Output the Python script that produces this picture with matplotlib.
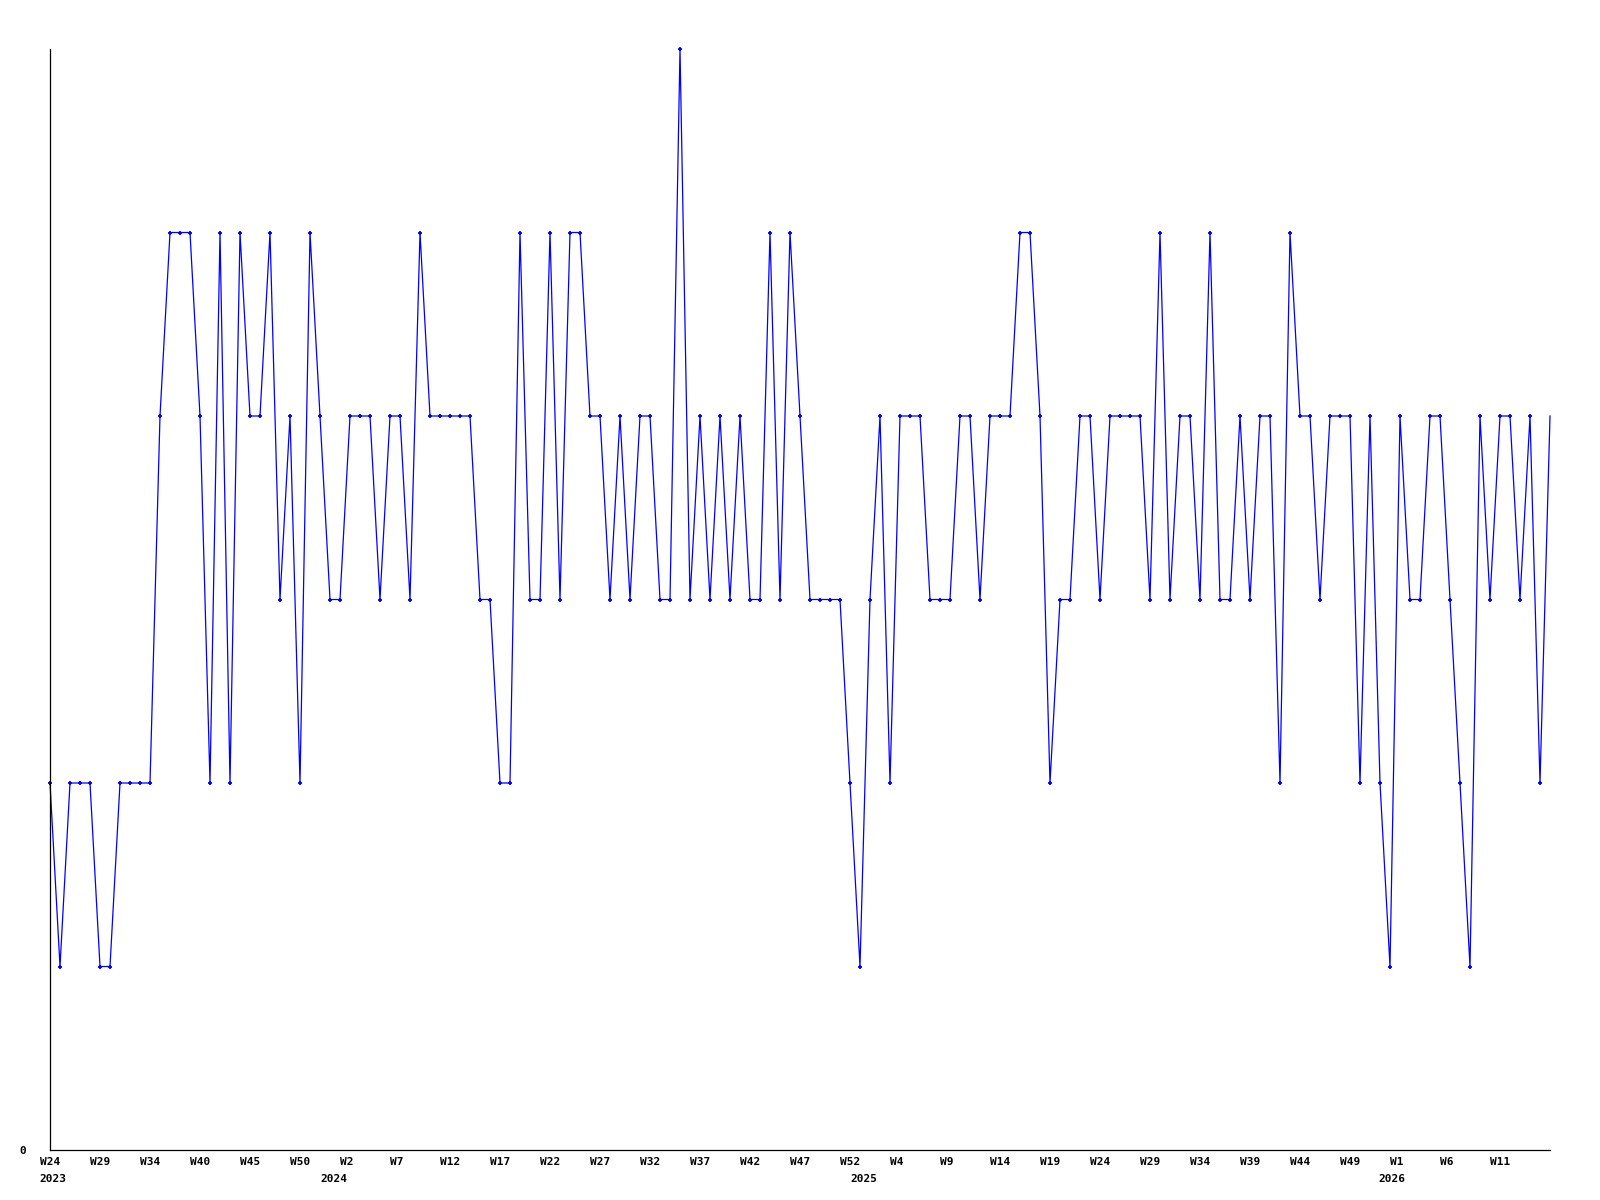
import numpy as np
import matplotlib
matplotlib.use('Agg')
from matplotlib import pyplot as plt
import matplotlib.transforms as mtransforms

# weekly values, W24 2023 onwards
values = [2, 1, 2, 2, 2, 1, 1, 2, 2, 2,
          2, 4, 5, 5, 5, 4, 2, 5, 2, 5,
          4, 4, 5, 3, 4, 2, 5, 4, 3, 3,
          4, 4, 4, 3, 4, 4, 3, 5, 4, 4,
          4, 4, 4, 3, 3, 2, 2, 5, 3, 3,
          5, 3, 5, 5, 4, 4, 3, 4, 3, 4,
          4, 3, 3, 6, 3, 4, 3, 4, 3, 4,
          3, 3, 5, 3, 5, 4, 3, 3, 3, 3,
          2, 1, 3, 4, 2, 4, 4, 4, 3, 3,
          3, 4, 4, 3, 4, 4, 4, 5, 5, 4,
          2, 3, 3, 4, 4, 3, 4, 4, 4, 4,
          3, 5, 3, 4, 4, 3, 5, 3, 3, 4,
          3, 4, 4, 2, 5, 4, 4, 3, 4, 4,
          4, 2, 4, 2, 1, 4, 3, 3, 4, 4,
          3, 2, 1, 4, 3, 4, 4, 3, 4, 2,
          4]

week_labels = ['W24', 'W29', 'W34', 'W40', 'W45', 'W50', 'W2', 'W7', 'W12', 'W17',
               'W22', 'W27', 'W32', 'W37', 'W42', 'W47', 'W52', 'W4', 'W9', 'W14',
               'W19', 'W24', 'W29', 'W34', 'W39', 'W44', 'W49', 'W1', 'W6', 'W11']
week_ticks = np.arange(0, 150, 5)

years = ['2023', '2024', '2025', '2026']
year_pos = [-1.05, 27.0, 80.0, 132.8]

x = np.arange(len(values))

fig = plt.figure(figsize=(16, 12), dpi=100)
ax = fig.add_axes([50 / 1600, 50 / 1200, 1500 / 1600, 1101 / 1200])

ax.plot(x, values, color='#0000ff', linewidth=0.9,
        marker='+', markersize=3.5, markeredgewidth=1.3,
        markevery=list(range(len(values) - 1)), clip_on=False)

for s in ['top', 'right']:
    ax.spines[s].set_visible(False)
for s in ['left', 'bottom']:
    ax.spines[s].set_linewidth(0.9)
    ax.spines[s].set_color('black')

font = dict(family='DejaVu Sans Mono', weight='bold', size=8)

ax.set_xticks(week_ticks)
ax.set_xticklabels(week_labels, ha='left', **font)
ax.tick_params(axis='x', length=0, pad=5)
# labels start a bit left of their week, like the original
shift = mtransforms.ScaledTranslation(-10.5 / 100, 0, fig.dpi_scale_trans)
for lab in ax.get_xticklabels():
    lab.set_transform(lab.get_transform() + shift)

ax.set_yticks([0])
ax.set_yticklabels(['0'], **font)
ax.tick_params(axis='y', length=0, pad=17)

ax.set_xlim(0, len(values) - 1)
ax.set_ylim(0, 6)

trans = mtransforms.blended_transform_factory(ax.transData, ax.transAxes)
for yr, pos in zip(years, year_pos):
    ax.text(pos, -29 / 1101, yr, transform=trans, ha='left', va='center',
            clip_on=False, **font)

plt.savefig('out.png', dpi=100)
